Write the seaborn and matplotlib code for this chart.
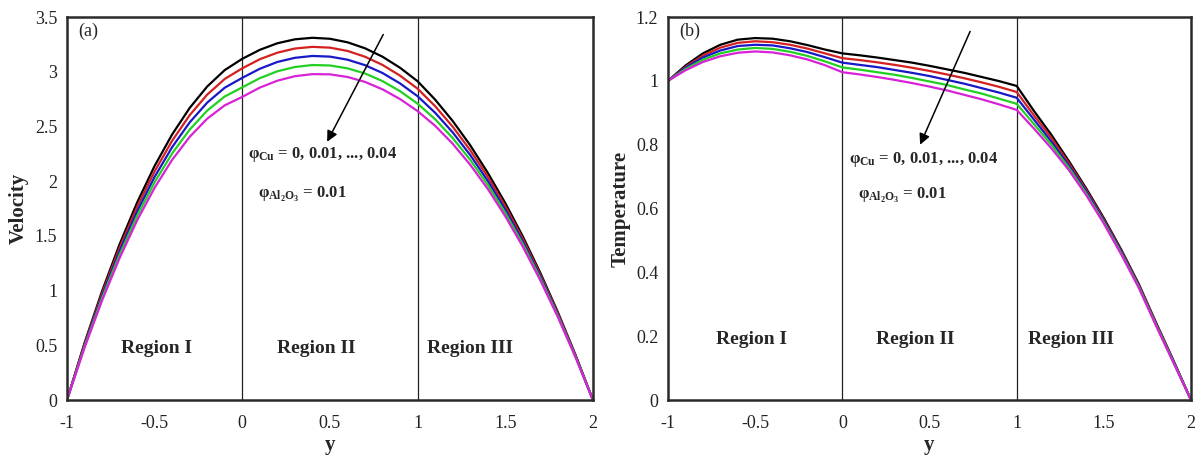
import numpy as np
import pandas as pd
import matplotlib
matplotlib.use("Agg")
import matplotlib.pyplot as plt
import seaborn as sns

# ---------------- data ----------------
y_pos = [-1.0, -0.9, -0.8, -0.7, -0.6, -0.5, -0.4, -0.3, -0.2, -0.1, 0.0,
         0.1, 0.2, 0.3, 0.4, 0.5, 0.6, 0.7, 0.8, 0.9, 1.0,
         1.1, 1.2, 1.3, 1.4, 1.5, 1.6, 1.7, 1.8, 1.9, 2.0]

series_names = ["0", "0.01", "0.02", "0.03", "0.04"]
series_colors = ["#000000", "#d42020", "#1818c8", "#22d022", "#d822d8"]

vel_0 = [0, 0.520, 0.994, 1.422, 1.804, 2.139, 2.427, 2.669, 2.865, 3.015, 3.118,
         3.200, 3.260, 3.296, 3.310, 3.301, 3.269, 3.214, 3.137, 3.036, 2.913,
         2.745, 2.550, 2.328, 2.077, 1.800, 1.495, 1.162, 0.803, 0.415, 0]
vel_1 = [0, 0.509, 0.973, 1.391, 1.763, 2.089, 2.369, 2.603, 2.791, 2.934, 3.031,
         3.114, 3.174, 3.212, 3.227, 3.220, 3.190, 3.137, 3.062, 2.964, 2.845,
         2.685, 2.498, 2.283, 2.040, 1.770, 1.472, 1.145, 0.792, 0.410, 0]
vel_2 = [0, 0.498, 0.951, 1.359, 1.722, 2.039, 2.311, 2.537, 2.718, 2.854, 2.944,
         3.027, 3.089, 3.127, 3.144, 3.138, 3.110, 3.060, 2.988, 2.893, 2.776,
         2.625, 2.446, 2.239, 2.003, 1.740, 1.448, 1.128, 0.780, 0.404, 0]
vel_3 = [0, 0.488, 0.930, 1.328, 1.682, 1.990, 2.253, 2.471, 2.645, 2.774, 2.857,
         2.941, 3.004, 3.043, 3.061, 3.057, 3.031, 2.984, 2.914, 2.822, 2.708,
         2.566, 2.394, 2.195, 1.967, 1.710, 1.425, 1.111, 0.769, 0.399, 0]
vel_4 = [0, 0.477, 0.909, 1.297, 1.641, 1.940, 2.195, 2.405, 2.571, 2.693, 2.770,
         2.855, 2.918, 2.959, 2.978, 2.976, 2.952, 2.907, 2.839, 2.750, 2.640,
         2.506, 2.342, 2.150, 1.930, 1.680, 1.402, 1.094, 0.758, 0.394, 0]

tem_0 = [1.000, 1.048, 1.086, 1.113, 1.129, 1.134, 1.132, 1.124, 1.112, 1.098, 1.086,
         1.080, 1.073, 1.065, 1.057, 1.047, 1.036, 1.025, 1.012, 0.999, 0.984,
         0.905, 0.830, 0.748, 0.662, 0.570, 0.471, 0.364, 0.242, 0.123, 0]
tem_1 = [1.000, 1.044, 1.079, 1.104, 1.119, 1.124, 1.121, 1.113, 1.101, 1.086, 1.071,
         1.065, 1.058, 1.050, 1.041, 1.031, 1.020, 1.008, 0.995, 0.981, 0.965,
         0.891, 0.820, 0.741, 0.657, 0.566, 0.467, 0.361, 0.240, 0.121, 0]
tem_2 = [1.000, 1.041, 1.073, 1.095, 1.109, 1.113, 1.111, 1.102, 1.090, 1.074, 1.057,
         1.050, 1.043, 1.034, 1.025, 1.015, 1.003, 0.991, 0.977, 0.963, 0.947,
         0.878, 0.809, 0.734, 0.652, 0.562, 0.464, 0.358, 0.237, 0.120, 0]
tem_3 = [1.000, 1.037, 1.066, 1.086, 1.098, 1.103, 1.100, 1.091, 1.078, 1.061, 1.042,
         1.035, 1.027, 1.019, 1.009, 0.998, 0.987, 0.973, 0.960, 0.944, 0.928,
         0.864, 0.799, 0.727, 0.646, 0.557, 0.460, 0.355, 0.235, 0.118, 0]
tem_4 = [1.000, 1.033, 1.059, 1.077, 1.088, 1.092, 1.089, 1.080, 1.067, 1.049, 1.027,
         1.020, 1.012, 1.003, 0.993, 0.982, 0.970, 0.956, 0.942, 0.926, 0.909,
         0.850, 0.788, 0.720, 0.641, 0.553, 0.456, 0.352, 0.232, 0.116, 0]

x_ticks = [-1, -0.5, 0, 0.5, 1, 1.5, 2]
x_tick_labels = ["-1", "-0.5", "0", "0.5", "1", "1.5", "2"]
vel_ticks = [0, 0.5, 1, 1.5, 2, 2.5, 3, 3.5]
vel_tick_labels = ["0", "0.5", "1", "1.5", "2", "2.5", "3", "3.5"]
tem_ticks = [0, 0.2, 0.4, 0.6, 0.8, 1.0, 1.2]
tem_tick_labels = ["0", "0.2", "0.4", "0.6", "0.8", "1", "1.2"]
region_names = ["Region I", "Region II", "Region III"]
interfaces = [0, 1]

# ---------------- style ----------------
sns.set_style("white")
plt.rcParams["font.family"] = ["Liberation Serif", "DejaVu Serif"]
plt.rcParams["mathtext.fontset"] = "custom"
plt.rcParams["mathtext.rm"] = "Liberation Serif"
plt.rcParams["mathtext.it"] = "Liberation Serif:italic"
plt.rcParams["mathtext.bf"] = "Liberation Serif:bold"


def long_frame(vals):
    rows = []
    for name, v in zip(series_names, vals):
        for yy, u in zip(y_pos, v):
            rows.append({"y": yy, "value": u, "phi": name})
    return pd.DataFrame(rows)


df_vel = long_frame([vel_0, vel_1, vel_2, vel_3, vel_4])
df_tem = long_frame([tem_0, tem_1, tem_2, tem_3, tem_4])

fig = plt.figure(figsize=(12, 4.57), dpi=100)
ax1 = fig.add_axes([0.0558, 0.1247, 0.4383, 0.8381])
ax2 = fig.add_axes([0.5567, 0.1247, 0.4358, 0.8381])

palette = dict(zip(series_names, series_colors))

for ax, df, ticks, labels, ylim, ylabel, tag in [
    (ax1, df_vel, vel_ticks, vel_tick_labels, (0, 3.5), "Velocity", "(a)"),
    (ax2, df_tem, tem_ticks, tem_tick_labels, (0, 1.2), "Temperature", "(b)"),
]:
    sns.lineplot(data=df, x="y", y="value", hue="phi", palette=palette,
                 hue_order=series_names, linewidth=1.6, legend=False,
                 sort=False, estimator=None, ax=ax)
    for xi in interfaces:
        ax.axvline(xi, color="#222222", lw=0.9, zorder=0)
    ax.set_xlim(-1, 2)
    ax.set_ylim(*ylim)
    ax.set_xticks(x_ticks)
    ax.set_xticklabels(x_tick_labels)
    ax.set_yticks(ticks)
    ax.set_yticklabels(labels)
    ax.tick_params(axis="both", length=0, labelsize=13, colors="#222222")
    ax.tick_params(axis="x", pad=11)
    ax.tick_params(axis="y", pad=7)
    for s in ax.spines.values():
        s.set_linewidth(1.8)
        s.set_color("#2a2a2a")
    ax.set_xlabel("y", fontsize=15, fontweight="bold", labelpad=2)
    ax.set_ylabel(ylabel, fontsize=15, fontweight="bold", labelpad=4)
    ax.text(0.022, 0.985, tag, transform=ax.transAxes, va="top", ha="left",
            fontsize=13)

# region labels
reg_a_x = [-0.49, 0.42, 1.30]
reg_b_x = [-0.52, 0.42, 1.31]
for xx, name in zip(reg_a_x, region_names):
    ax1.text(xx, 0.475, name, ha="center", va="center", fontsize=14,
             fontweight="bold")
for xx, name in zip(reg_b_x, region_names):
    ax2.text(xx, 0.19, name, ha="center", va="center", fontsize=14,
             fontweight="bold")

line1 = r"φ$_{\mathbf{Cu}}$ = 0, 0.01, ..., 0.04"
line2 = r"φ$_{\mathbf{Al_2O_3}}$ = 0.01"

ax1.text(0.03, 2.24, line1, fontsize=12, fontweight="bold", va="center")
ax1.text(0.09, 1.88, line2, fontsize=12, fontweight="bold", va="center")
ax1.annotate("", xy=(0.484, 2.36), xytext=(0.804, 3.34),
             arrowprops=dict(arrowstyle="-|>", color="black", lw=1.1,
                             mutation_scale=16, shrinkA=0, shrinkB=0))

ax2.text(0.04, 0.755, line1, fontsize=12, fontweight="bold", va="center")
ax2.text(0.09, 0.64, line2, fontsize=12, fontweight="bold", va="center")
ax2.annotate("", xy=(0.446, 0.80), xytext=(0.733, 1.155),
             arrowprops=dict(arrowstyle="-|>", color="black", lw=1.1,
                             mutation_scale=16, shrinkA=0, shrinkB=0))

fig.savefig("out.png", dpi=100)
